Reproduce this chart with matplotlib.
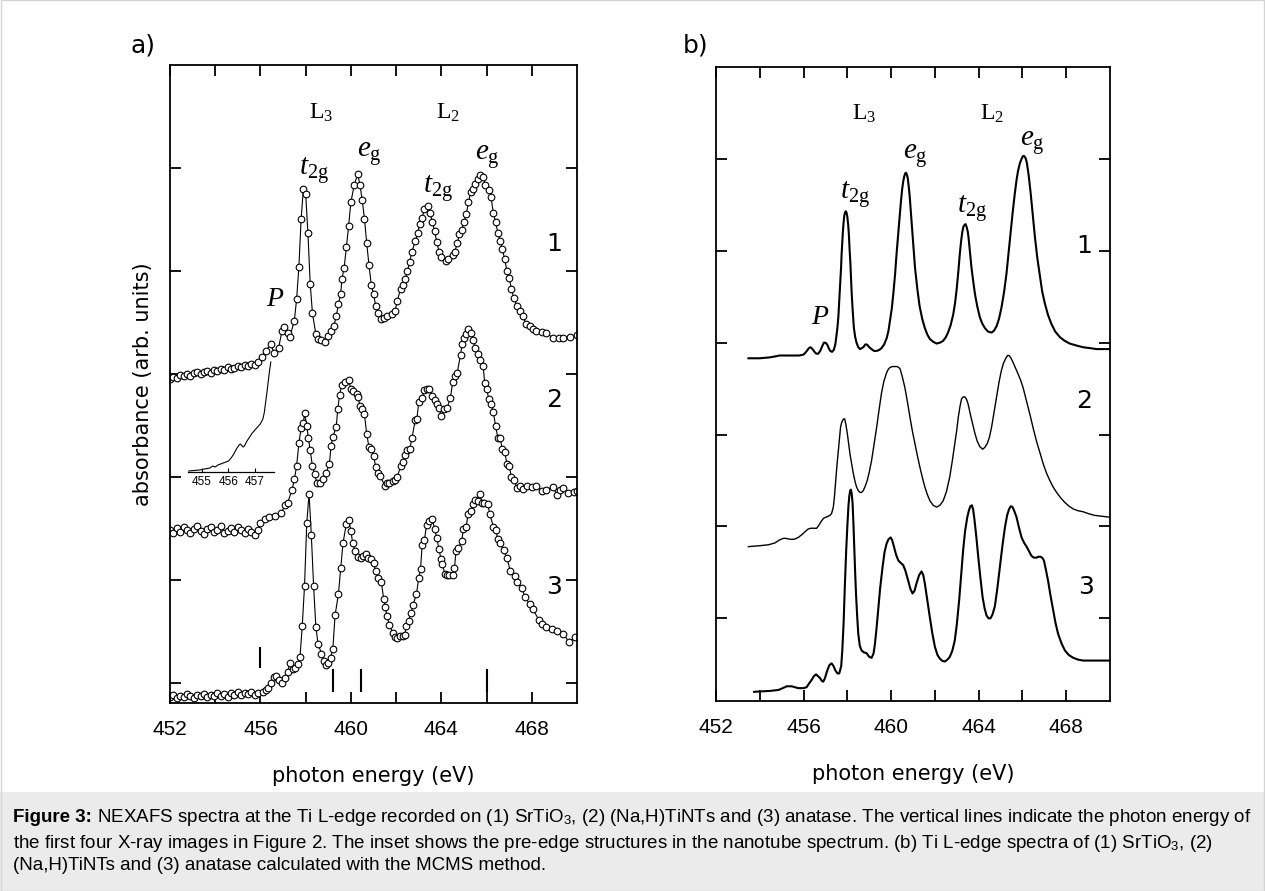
import matplotlib
matplotlib.use("Agg")
import matplotlib.pyplot as plt
from matplotlib.patches import Rectangle

plt.rcParams['font.family'] = ['DejaVu Sans']
plt.rcParams['mathtext.fontset'] = 'custom'
plt.rcParams['mathtext.rm'] = 'Liberation Serif'
plt.rcParams['mathtext.it'] = 'Liberation Serif:italic'
plt.rcParams['mathtext.bf'] = 'Liberation Serif:bold'
plt.rcParams['mathtext.sf'] = 'Liberation Sans'

# ---------------- panel a: measured spectra (open circles) ----------------
base_e = [452.0, 452.15, 452.3, 452.45, 452.6, 452.75, 452.9, 453.05, 453.2, 453.35,
          453.5, 453.65, 453.8, 453.95, 454.1, 454.25, 454.4, 454.55, 454.7, 454.85,
          455.0, 455.15, 455.3, 455.45, 455.6, 455.75, 455.9]

a1_e = base_e + [
    456.05, 456.25, 456.45, 456.6, 456.8, 456.95, 457.05, 457.2, 457.3, 457.5,
    457.6, 457.7, 457.8, 457.9, 458.0, 458.1, 458.2, 458.3, 458.45, 458.55,
    458.7, 458.85, 459.0, 459.1, 459.25, 459.35, 459.45, 459.55, 459.6, 459.7,
    459.8, 459.9, 460.0, 460.15, 460.3, 460.4, 460.5, 460.6, 460.7, 460.8,
    460.9, 461.0, 461.1, 461.2, 461.35, 461.45, 461.6, 461.8, 461.95, 462.05,
    462.2, 462.3, 462.4, 462.5, 462.6, 462.7, 462.85, 462.95, 463.05, 463.15,
    463.25, 463.4, 463.5, 463.6, 463.7, 463.8, 463.9, 464.0, 464.2, 464.3,
    464.5, 464.6, 464.7, 464.8, 464.9, 465.0, 465.1, 465.2, 465.3, 465.4,
    465.5, 465.6, 465.7, 465.85, 465.95, 466.1, 466.2, 466.3, 466.4, 466.5,
    466.6, 466.7, 466.8, 466.9, 467.0, 467.1, 467.2, 467.35, 467.5, 467.6,
    467.75, 467.9, 468.05, 468.2, 468.45, 468.65, 468.95, 469.2, 469.4, 469.7, 470.0]
a1_v = [2.95, 2.97, 2.96, 2.99, 2.98, 3.00, 2.98, 3.01, 3.02, 3.00,
        3.02, 3.03, 3.01, 3.04, 3.03, 3.05, 3.04, 3.07, 3.05, 3.06,
        3.08, 3.07, 3.09, 3.08, 3.10, 3.09, 3.12,
        3.17, 3.23, 3.29, 3.21, 3.25, 3.42, 3.46, 3.40, 3.36, 3.52,
        3.73, 4.04, 4.51, 4.80, 4.75, 4.37, 3.88, 3.59, 3.39, 3.34,
        3.33, 3.31, 3.37, 3.42, 3.47, 3.56, 3.68, 3.78, 3.92, 4.03,
        4.23, 4.44, 4.67, 4.84, 4.94, 4.84, 4.69, 4.51, 4.27, 4.06,
        3.87, 3.78, 3.66, 3.59, 3.54, 3.55, 3.56, 3.58, 3.61, 3.71,
        3.83, 3.87, 3.92, 4.00, 4.09, 4.19, 4.29, 4.37, 4.46, 4.52,
        4.60, 4.63, 4.56, 4.48, 4.39, 4.28, 4.19, 4.14, 4.10, 4.12,
        4.16, 4.19, 4.27, 4.36, 4.40, 4.48, 4.55, 4.67, 4.77, 4.80,
        4.85, 4.89, 4.93, 4.91, 4.84, 4.79, 4.72, 4.56, 4.48, 4.37,
        4.29, 4.21, 4.12, 4.00, 3.93, 3.83, 3.74, 3.66, 3.61, 3.56,
        3.49, 3.47, 3.44, 3.42, 3.41, 3.40, 3.35, 3.35, 3.35, 3.36, 3.38]

a2_e = base_e + [
    456.0, 456.2, 456.4, 456.65, 456.9, 457.1, 457.2, 457.4, 457.5, 457.6,
    457.7, 457.8, 457.9, 457.95, 458.05, 458.12, 458.2, 458.3, 458.4, 458.5,
    458.65, 458.75, 458.9, 459.05, 459.12, 459.2, 459.35, 459.42, 459.5, 459.6,
    459.75, 459.9, 460.0, 460.1, 460.25, 460.32, 460.4, 460.5, 460.6, 460.7,
    460.8, 460.9, 461.0, 461.1, 461.2, 461.3, 461.5, 461.6, 461.7, 461.85,
    461.95, 462.05, 462.2, 462.3, 462.4, 462.5, 462.6, 462.7, 462.85, 462.92,
    463.0, 463.15, 463.25, 463.35, 463.45, 463.6, 463.7, 463.8, 463.9, 464.0,
    464.1, 464.25, 464.4, 464.5, 464.6, 464.7, 464.85, 464.92, 465.0, 465.1,
    465.2, 465.3, 465.4, 465.5, 465.6, 465.7, 465.85, 465.92, 466.0, 466.1,
    466.2, 466.3, 466.4, 466.5, 466.6, 466.7, 466.8, 466.9, 467.0, 467.1,
    467.2, 467.35, 467.5, 467.6, 467.8, 468.0, 468.2, 468.45, 468.65, 468.95,
    469.1, 469.25, 469.4, 469.6, 469.85, 470.0]
a2_v = [1.49, 1.46, 1.51, 1.47, 1.52, 1.49, 1.46, 1.50, 1.53, 1.48,
        1.45, 1.50, 1.52, 1.47, 1.49, 1.53, 1.46, 1.48, 1.51, 1.47,
        1.52, 1.49, 1.46, 1.50, 1.47, 1.44, 1.49,
        1.56, 1.60, 1.61, 1.62, 1.65, 1.73, 1.75, 1.88, 1.98, 2.11,
        2.33, 2.48, 2.53, 2.62, 2.50, 2.38, 2.26, 2.11, 2.03, 1.94,
        1.94, 1.98, 2.04, 2.13, 2.30, 2.39, 2.49, 2.66, 2.80, 2.90,
        2.92, 2.94, 2.86, 2.84, 2.81, 2.78, 2.69, 2.66, 2.61, 2.42,
        2.29, 2.27, 2.21, 2.10, 2.04, 2.01, 1.92, 1.94, 1.94, 1.96,
        1.97, 2.00, 2.11, 2.15, 2.22, 2.26, 2.27, 2.38, 2.56, 2.57,
        2.73, 2.77, 2.85, 2.86, 2.86, 2.79, 2.75, 2.71, 2.67, 2.59,
        2.66, 2.67, 2.77, 2.92, 2.98, 3.01, 3.19, 3.29, 3.35, 3.39,
        3.44, 3.40, 3.33, 3.25, 3.20, 3.14, 3.08, 2.91, 2.86, 2.76,
        2.71, 2.63, 2.50, 2.38, 2.38, 2.27, 2.25, 2.13, 2.11, 2.00,
        1.97, 1.90, 1.92, 1.89, 1.92, 1.91, 1.92, 1.87, 1.88, 1.91,
        1.83, 1.88, 1.90, 1.85, 1.86, 1.87]

a3_e = base_e + [
    456.1, 456.25, 456.35, 456.45, 456.6, 456.7, 456.8, 456.95, 457.1, 457.2,
    457.3, 457.45, 457.55, 457.65, 457.75, 457.85, 457.95, 458.05, 458.15, 458.25,
    458.35, 458.45, 458.55, 458.7, 458.8, 458.9, 459.0, 459.1, 459.2, 459.3,
    459.45, 459.55, 459.65, 459.8, 459.9, 460.0, 460.08, 460.2, 460.3, 460.45,
    460.55, 460.65, 460.75, 460.9, 461.0, 461.1, 461.2, 461.35, 461.45, 461.52,
    461.6, 461.7, 461.85, 461.95, 462.05, 462.15, 462.3, 462.38, 462.45, 462.55,
    462.65, 462.75, 462.9, 463.0, 463.08, 463.15, 463.25, 463.35, 463.45, 463.6,
    463.7, 463.8, 463.9, 463.98, 464.05, 464.15, 464.25, 464.35, 464.5, 464.58,
    464.65, 464.75, 464.9, 464.98, 465.1, 465.18, 465.3, 465.38, 465.5, 465.6,
    465.7, 465.8, 465.9, 466.05, 466.15, 466.3, 466.4, 466.5, 466.6, 466.75,
    466.9, 467.05, 467.25, 467.35, 467.55, 467.7, 467.9, 468.05, 468.3, 468.45,
    468.65, 468.9, 469.1, 469.4, 469.65, 469.9]
a3_v = [-0.13, -0.11, -0.14, -0.12, -0.13, -0.10, -0.12, -0.14, -0.11, -0.12,
        -0.10, -0.13, -0.11, -0.12, -0.09, -0.12, -0.10, -0.13, -0.09, -0.11,
        -0.08, -0.11, -0.09, -0.10, -0.08, -0.11, -0.09,
        -0.08, -0.06, -0.04, 0.00, 0.06, 0.07, 0.03, 0.00, 0.05, 0.11,
        0.20, 0.14, 0.15, 0.19, 0.26, 0.56, 0.95, 1.56, 1.84, 1.44,
        0.95, 0.55, 0.38, 0.29, 0.22, 0.18, 0.20, 0.25, 0.33, 0.66,
        0.87, 1.12, 1.36, 1.55, 1.59, 1.48, 1.36, 1.28, 1.23, 1.22,
        1.24, 1.26, 1.22, 1.21, 1.17, 1.09, 1.02, 0.98, 0.82, 0.74,
        0.65, 0.57, 0.49, 0.45, 0.44, 0.46, 0.46, 0.47, 0.56, 0.61,
        0.68, 0.76, 0.87, 1.02, 1.11, 1.34, 1.39, 1.54, 1.58, 1.60,
        1.50, 1.41, 1.30, 1.21, 1.16, 1.06, 1.05, 1.05, 1.05, 1.12,
        1.28, 1.31, 1.38, 1.50, 1.52, 1.64, 1.67, 1.74, 1.78, 1.77,
        1.84, 1.75, 1.75, 1.74, 1.64, 1.52, 1.49, 1.40, 1.36, 1.29,
        1.22, 1.09, 1.04, 0.98, 0.93, 0.84, 0.77, 0.72, 0.62, 0.58,
        0.55, 0.53, 0.51, 0.48, 0.40, 0.45]

# photon energies of the first four X-ray images
img_e = [456.0, 459.2, 460.45, 466.0]
img_lo = [0.15, -0.08, -0.08, -0.08]
img_hi = [0.35, 0.14, 0.14, 0.14]

# inset: pre-edge of the nanotube spectrum
ins_e = [454.5, 454.7, 454.9, 455.1, 455.3, 455.4, 455.5, 455.6, 455.8, 455.9,
         456.0, 456.1, 456.2, 456.3, 456.4, 456.45, 456.55, 456.6, 456.7, 456.8,
         456.9, 457.0, 457.1, 457.2, 457.3, 457.35, 457.4, 457.45, 457.5, 457.55, 457.6]
ins_v = [0.1, 0.15, 0.2, 0.3, 0.4, 0.6, 0.5, 0.7, 0.9, 1.0,
         1.1, 1.4, 1.8, 2.3, 2.7, 2.8, 2.5, 2.6, 3.1, 3.5,
         3.9, 4.2, 4.5, 4.8, 5.3, 5.9, 6.9, 7.9, 9.0, 10.1, 11.0]

# ---------------- panel b: calculated spectra (lines) ----------------
b1_e = [453.48, 454.0, 454.47, 454.7, 454.9, 455.4, 455.8, 456.0, 456.08, 456.15,
        456.24, 456.32, 456.41, 456.5, 456.58, 456.67, 456.76, 456.85, 456.93, 457.0,
        457.08, 457.15, 457.22, 457.3, 457.38, 457.45, 457.5, 457.55, 457.59, 457.63,
        457.67, 457.71, 457.74, 457.77, 457.8, 457.83, 457.86, 457.9, 457.93, 457.97,
        458.0, 458.04, 458.07, 458.1, 458.14, 458.17, 458.2, 458.25, 458.3, 458.36,
        458.42, 458.5, 458.58, 458.66, 458.73, 458.82, 458.9, 459.0, 459.1, 459.22,
        459.34, 459.45, 459.56, 459.68, 459.8, 459.88, 459.95, 460.03, 460.1, 460.18,
        460.25, 460.33, 460.4, 460.45, 460.5, 460.55, 460.6, 460.64, 460.68, 460.72,
        460.76, 460.8, 460.85, 460.89, 460.93, 461.01, 461.09, 461.2, 461.3, 461.42,
        461.54, 461.65, 461.77, 461.92, 462.08, 462.23, 462.38, 462.5, 462.6, 462.72,
        462.84, 462.92, 462.99, 463.07, 463.14, 463.2, 463.25, 463.3, 463.35, 463.4,
        463.45, 463.5, 463.54, 463.6, 463.67, 463.75, 463.83, 463.94, 464.05, 464.16,
        464.28, 464.43, 464.59, 464.7, 464.82, 464.93, 465.04, 465.16, 465.27, 465.36,
        465.45, 465.55, 465.65, 465.73, 465.8, 465.88, 465.96, 466.02, 466.08, 466.14,
        466.2, 466.28, 466.37, 466.47, 466.57, 466.68, 466.8, 466.9, 467.02, 467.17,
        467.33, 467.5, 467.71, 467.93, 468.16, 468.45, 468.77, 469.1, 469.38, 470.0]
b1_v = [3.83, 3.83, 3.84, 3.85, 3.86, 3.86, 3.86, 3.87, 3.89, 3.91,
        3.94, 3.95, 3.93, 3.90, 3.88, 3.88, 3.91, 3.96, 4.00, 4.00,
        3.98, 3.94, 3.91, 3.90, 3.92, 3.98, 4.07, 4.17, 4.28, 4.45,
        4.62, 4.80, 4.97, 5.10, 5.22, 5.31, 5.38, 5.42, 5.43, 5.41,
        5.37, 5.28, 5.18, 5.03, 4.86, 4.70, 4.53, 4.33, 4.16, 4.06,
        4.00, 3.95, 3.93, 3.94, 3.95, 3.98, 3.98, 3.95, 3.93, 3.91,
        3.91, 3.92, 3.94, 3.98, 4.05, 4.13, 4.24, 4.37, 4.53, 4.74,
        4.97, 5.20, 5.40, 5.54, 5.66, 5.75, 5.81, 5.84, 5.85, 5.83,
        5.79, 5.71, 5.59, 5.46, 5.33, 5.06, 4.82, 4.58, 4.40, 4.26,
        4.16, 4.09, 4.04, 4.01, 3.99, 4.00, 4.02, 4.06, 4.11, 4.19,
        4.31, 4.43, 4.57, 4.77, 4.97, 5.11, 5.20, 5.26, 5.28, 5.29,
        5.26, 5.21, 5.14, 4.99, 4.82, 4.67, 4.53, 4.39, 4.28, 4.21,
        4.16, 4.12, 4.11, 4.13, 4.18, 4.26, 4.38, 4.55, 4.75, 4.96,
        5.18, 5.41, 5.62, 5.77, 5.87, 5.95, 6.00, 6.03, 6.03, 6.01,
        5.96, 5.83, 5.64, 5.39, 5.15, 4.92, 4.72, 4.56, 4.43, 4.30,
        4.20, 4.12, 4.06, 4.02, 3.99, 3.97, 3.95, 3.94, 3.93, 3.93]

b2_e = [453.48, 454.0, 454.39, 454.55, 454.69, 454.88, 455.07, 455.2, 455.38, 455.57,
        455.76, 455.92, 456.06, 456.2, 456.32, 456.46, 456.6, 456.72, 456.82, 456.92,
        457.02, 457.12, 457.2, 457.28, 457.36, 457.41, 457.46, 457.52, 457.59, 457.64,
        457.69, 457.74, 457.78, 457.83, 457.88, 457.94, 458.0, 458.06, 458.12, 458.2,
        458.27, 458.35, 458.42, 458.5, 458.58, 458.65, 458.73, 458.82, 458.91, 459.0,
        459.11, 459.22, 459.34, 459.45, 459.56, 459.67, 459.79, 459.87, 459.95, 460.06,
        460.17, 460.28, 460.4, 460.5, 460.63, 460.75, 460.86, 460.97, 461.09, 461.2,
        461.32, 461.43, 461.54, 461.65, 461.77, 461.92, 462.08, 462.23, 462.38, 462.53,
        462.68, 462.8, 462.91, 463.0, 463.07, 463.15, 463.22, 463.3, 463.37, 463.45,
        463.52, 463.62, 463.72, 463.82, 463.93, 464.05, 464.18, 464.28, 464.39, 464.49,
        464.59, 464.7, 464.82, 464.93, 465.04, 465.14, 465.24, 465.32, 465.39, 465.48,
        465.58, 465.69, 465.8, 465.92, 466.03, 466.18, 466.34, 466.49, 466.64, 466.8,
        466.95, 467.1, 467.25, 467.4, 467.56, 467.75, 467.94, 468.13, 468.32, 468.55,
        468.77, 469.0, 469.3, 469.65, 470.0]
b2_v = [1.78, 1.79, 1.80, 1.81, 1.82, 1.85, 1.87, 1.87, 1.86, 1.86,
        1.88, 1.91, 1.94, 1.97, 1.98, 1.98, 1.98, 2.02, 2.06, 2.09,
        2.10, 2.11, 2.12, 2.14, 2.21, 2.32, 2.47, 2.65, 2.83, 2.97,
        3.08, 3.13, 3.15, 3.17, 3.17, 3.10, 3.01, 2.90, 2.79, 2.68,
        2.58, 2.49, 2.43, 2.39, 2.37, 2.37, 2.39, 2.44, 2.50, 2.59,
        2.72, 2.89, 3.08, 3.27, 3.45, 3.58, 3.67, 3.71, 3.73, 3.74,
        3.74, 3.74, 3.72, 3.64, 3.51, 3.35, 3.19, 3.04, 2.90, 2.77,
        2.64, 2.53, 2.43, 2.35, 2.28, 2.23, 2.21, 2.23, 2.28, 2.38,
        2.54, 2.72, 2.90, 3.05, 3.19, 3.31, 3.39, 3.41, 3.41, 3.38,
        3.33, 3.22, 3.12, 3.02, 2.93, 2.87, 2.84, 2.86, 2.90, 2.97,
        3.08, 3.24, 3.41, 3.57, 3.70, 3.78, 3.83, 3.86, 3.86, 3.83,
        3.78, 3.72, 3.66, 3.59, 3.51, 3.37, 3.22, 3.07, 2.93, 2.80,
        2.68, 2.58, 2.50, 2.43, 2.37, 2.31, 2.26, 2.22, 2.19, 2.17,
        2.16, 2.14, 2.12, 2.11, 2.10]

b3_e = [453.74, 454.47, 454.85, 455.05, 455.23, 455.46, 455.6, 455.76, 456.0, 456.14,
        456.25, 456.37, 456.47, 456.57, 456.66, 456.75, 456.83, 456.9, 456.98, 457.08,
        457.18, 457.28, 457.37, 457.46, 457.55, 457.63, 457.72, 457.77, 457.83, 457.89,
        457.95, 458.0, 458.05, 458.09, 458.13, 458.16, 458.2, 458.24, 458.28, 458.32,
        458.36, 458.4, 458.45, 458.5, 458.57, 458.65, 458.75, 458.88, 459.0, 459.11,
        459.2, 459.26, 459.33, 459.41, 459.5, 459.61, 459.7, 459.79, 459.88, 459.98,
        460.05, 460.13, 460.23, 460.33, 460.45, 460.55, 460.65, 460.78, 460.88, 460.98,
        461.07, 461.16, 461.28, 461.39, 461.47, 461.54, 461.65, 461.77, 461.88, 462.0,
        462.12, 462.23, 462.35, 462.46, 462.57, 462.68, 462.8, 462.91, 463.0, 463.11,
        463.2, 463.29, 463.38, 463.48, 463.55, 463.62, 463.69, 463.75, 463.81, 463.9,
        463.98, 464.08, 464.18, 464.27, 464.36, 464.45, 464.54, 464.63, 464.74, 464.85,
        464.97, 465.08, 465.2, 465.3, 465.39, 465.47, 465.55, 465.64, 465.73, 465.85,
        465.96, 466.08, 466.19, 466.3, 466.41, 466.52, 466.64, 466.73, 466.82, 466.9,
        466.98, 467.07, 467.17, 467.28, 467.4, 467.51, 467.63, 467.78, 467.94, 468.12,
        468.32, 468.55, 468.77, 469.38, 470.0]
b3_v = [0.20, 0.21, 0.22, 0.24, 0.26, 0.26, 0.25, 0.24, 0.24, 0.25,
        0.29, 0.33, 0.37, 0.39, 0.37, 0.35, 0.32, 0.31, 0.35, 0.43,
        0.49, 0.51, 0.48, 0.43, 0.40, 0.40, 0.48, 0.65, 0.95, 1.38,
        1.75, 2.00, 2.22, 2.33, 2.39, 2.40, 2.36, 2.25, 2.02, 1.75,
        1.48, 1.25, 1.02, 0.83, 0.70, 0.65, 0.63, 0.62, 0.58, 0.57,
        0.62, 0.72, 0.88, 1.09, 1.33, 1.56, 1.72, 1.81, 1.86, 1.88,
        1.85, 1.78, 1.69, 1.63, 1.60, 1.58, 1.52, 1.41, 1.32, 1.27,
        1.30, 1.38, 1.47, 1.51, 1.47, 1.38, 1.20, 1.01, 0.84, 0.69,
        0.60, 0.56, 0.535, 0.53, 0.55, 0.58, 0.65, 0.76, 0.93, 1.20,
        1.47, 1.74, 1.95, 2.10, 2.17, 2.22, 2.23, 2.18, 2.07, 1.87,
        1.67, 1.44, 1.23, 1.11, 1.03, 1.00, 1.00, 1.04, 1.13, 1.32,
        1.56, 1.78, 1.99, 2.12, 2.19, 2.22, 2.21, 2.16, 2.10, 1.98,
        1.88, 1.82, 1.78, 1.73, 1.68, 1.66, 1.66, 1.67, 1.67, 1.66,
        1.63, 1.53, 1.41, 1.25, 1.09, 0.95, 0.83, 0.73, 0.65, 0.60,
        0.57, 0.55, 0.54, 0.54, 0.54]

W, H = 1265, 891
fig = plt.figure(figsize=(W / 100, H / 100), dpi=100)

# caption box and light frame
fig.patches.append(Rectangle((0, 0), 1, (H - 792) / H, transform=fig.transFigure,
                             facecolor='#ebebeb', edgecolor='none', zorder=0))
fig.patches.append(Rectangle((0.0005, 0.0005), 0.999, 0.999, transform=fig.transFigure,
                             facecolor='none', edgecolor='#d4d4d4', lw=1.0, zorder=1))

ax_a = fig.add_axes([170 / W, (H - 703) / H, 407 / W, 638 / H])
ax_b = fig.add_axes([716 / W, (H - 701) / H, 394 / W, 634 / H])


def style_axes(ax, yticks):
    ax.set_xlim(452, 470)
    ax.set_xticks([452, 456, 460, 464, 468])
    ax.set_xticks([454, 458, 462, 466], minor=True)
    ax.set_yticks(yticks)
    ax.set_yticklabels([])
    ax.tick_params(which='both', direction='in', top=True, right=True,
                   length=8, width=1.3, pad=12)
    for lab in ax.get_xticklabels():
        lab.set_fontfamily('Liberation Sans')
        lab.set_fontsize(15)
    for s in ax.spines.values():
        s.set_linewidth(1.3)
    ax.set_xlabel('photon energy (eV)', fontsize=15, labelpad=20)


style_axes(ax_a, [0, 1, 2, 3, 4, 5])
ax_a.set_ylim(-0.19, 6.0)
ax_a.set_ylabel('absorbance (arb. units)', fontsize=15, labelpad=0)

for e, v in [(a1_e, a1_v), (a2_e, a2_v), (a3_e, a3_v)]:
    ax_a.plot(e, v, '-', color='black', lw=0.8, marker='o', ms=4.8,
              mfc='white', mec='black', mew=0.8)

ax_a.vlines(img_e, img_lo, img_hi, color='black', lw=1.5)

style_axes(ax_b, [1, 2, 3, 4, 5, 6])
ax_b.set_ylim(0.1, 7.0)
ax_b.plot(b1_e, b1_v, color='black', lw=1.5)
ax_b.plot(b2_e, b2_v, color='black', lw=1.0)
ax_b.plot(b3_e, b3_v, color='black', lw=1.5)

# peak annotations
serif_big = 21
for ax, lab in [(ax_a, [(458.68, 5.54), (464.28, 5.54), (458.37, 4.98), (460.8, 5.14),
                        (463.86, 4.80), (466.05, 5.11), (456.65, 3.74)]),
                (ax_b, [(458.76, 6.50), (464.63, 6.50), (458.35, 5.61), (461.09, 6.03),
                        (463.71, 5.46), (466.43, 6.17), (456.77, 4.29)])]:
    (l3, l2, t3, e3, t2, e2, p) = lab
    ax.text(*l3, r'$\mathrm{L}_3$', fontsize=17, ha='center', va='center')
    ax.text(*l2, r'$\mathrm{L}_2$', fontsize=17, ha='center', va='center')
    ax.text(*t3, r'$t_{\mathrm{2g}}$', fontsize=serif_big, ha='center', va='center')
    ax.text(*e3, r'$e_{\mathrm{g}}$', fontsize=serif_big, ha='center', va='center')
    ax.text(*t2, r'$t_{\mathrm{2g}}$', fontsize=serif_big, ha='center', va='center')
    ax.text(*e2, r'$e_{\mathrm{g}}$', fontsize=serif_big, ha='center', va='center')
    ax.text(*p, r'$P$', fontsize=20, ha='center', va='center')

for n, (e, v) in zip(['1', '2', '3'], [(468.99, 4.26), (468.99, 2.75), (468.99, 0.94)]):
    ax_a.text(e, v, n, fontsize=18, ha='center', va='center')
for n, (e, v) in zip(['1', '2', '3'], [(468.8, 5.05), (468.8, 3.37), (468.9, 1.34)]):
    ax_b.text(e, v, n, fontsize=18, ha='center', va='center')

fig.text(130 / W, 1 - 46 / H, 'a)', fontsize=18, ha='left', va='center')
fig.text(683 / W, 1 - 46 / H, 'b)', fontsize=18, ha='left', va='center')

# inset
ax_in = fig.add_axes([188 / W, (H - 472) / H, 86 / W, 110 / H])
ax_in.patch.set_alpha(0)
ax_in.plot(ins_e, ins_v, color='black', lw=0.8, clip_on=False)
ax_in.set_xlim(454.47, 457.72)
ax_in.set_ylim(0, 11)
for s in ['top', 'left', 'right']:
    ax_in.spines[s].set_visible(False)
ax_in.spines['bottom'].set_linewidth(0.9)
ax_in.set_yticks([])
ax_in.set_xticks([455, 456, 457])
ax_in.tick_params(axis='x', direction='in', length=3, width=0.8, pad=3)
for lab in ax_in.get_xticklabels():
    lab.set_fontfamily('Liberation Sans')
    lab.set_fontsize(8.5)

# caption
cap_fs = 13.5
cap_font = 'Liberation Sans'
x0 = 13 / W
y1, y2, y3 = 1 - 818 / H, 1 - 843 / H, 1 - 866 / H
t_bold = fig.text(x0, y1, 'Figure 3:', fontsize=cap_fs, fontfamily=cap_font,
                  fontweight='bold', va='center', ha='left')
r = fig.canvas.get_renderer()
bb = t_bold.get_window_extent(renderer=r)
fig.text(bb.x1 / W, y1,
         ' NEXAFS spectra at the Ti L-edge recorded on (1) SrTiO$_\\mathsf{3}$, (2) (Na,H)TiNTs '
         'and (3) anatase. The vertical lines indicate the photon energy of',
         fontsize=cap_fs, fontfamily=cap_font, va='center', ha='left')
fig.text(x0, y2,
         'the first four X-ray images in Figure 2. The inset shows the pre-edge structures in '
         'the nanotube spectrum. (b) Ti L-edge spectra of (1) SrTiO$_\\mathsf{3}$, (2)',
         fontsize=cap_fs, fontfamily=cap_font, va='center', ha='left')
fig.text(x0, y3, '(Na,H)TiNTs and (3) anatase calculated with the MCMS method.',
         fontsize=cap_fs, fontfamily=cap_font, va='center', ha='left')

fig.savefig('out.png', dpi=100)
